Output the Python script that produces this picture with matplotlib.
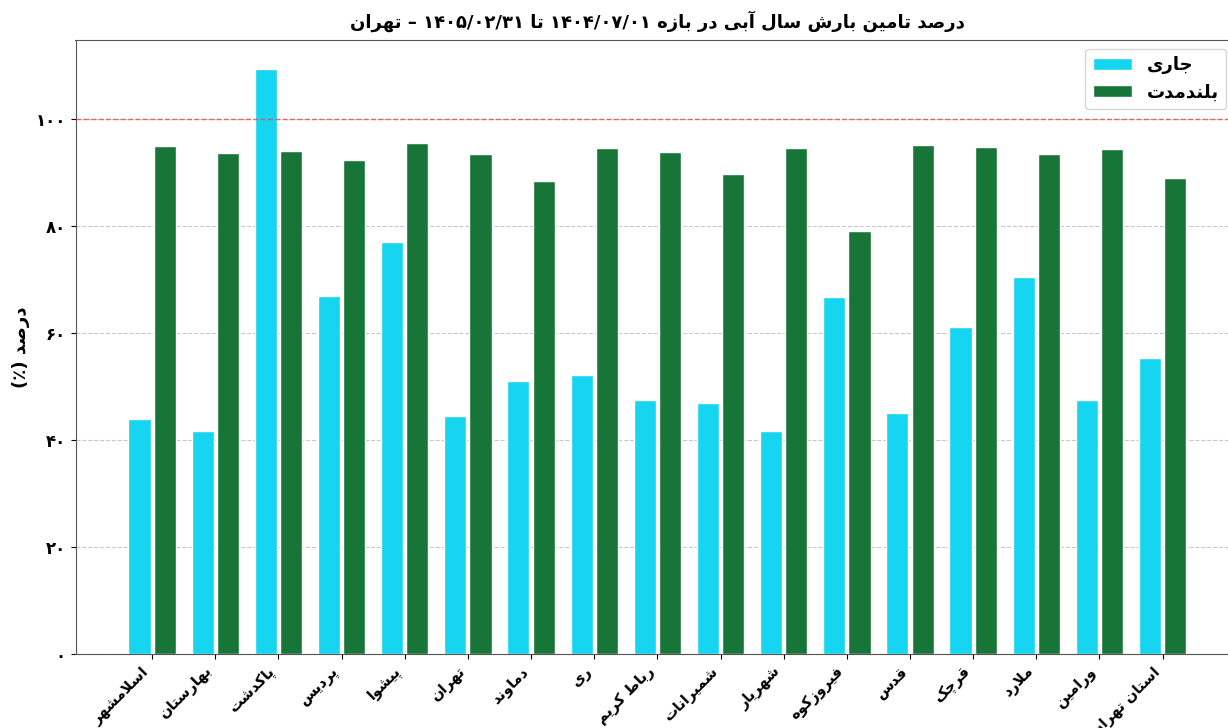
import re

import matplotlib

matplotlib.use("Agg")
import matplotlib.pyplot as plt
import numpy as np

# contextual forms: isolated, final, initial, medial
FORMS = {
    "\u0627": ("\uFE8D", "\uFE8E", None, None),
    "\u0622": ("\uFE81", "\uFE82", None, None),
    "\u0628": ("\uFE8F", "\uFE90", "\uFE91", "\uFE92"),
    "\u067E": ("\uFB56", "\uFB57", "\uFB58", "\uFB59"),
    "\u062A": ("\uFE95", "\uFE96", "\uFE97", "\uFE98"),
    "\u062B": ("\uFE99", "\uFE9A", "\uFE9B", "\uFE9C"),
    "\u062C": ("\uFE9D", "\uFE9E", "\uFE9F", "\uFEA0"),
    "\u0686": ("\uFB7A", "\uFB7B", "\uFB7C", "\uFB7D"),
    "\u062D": ("\uFEA1", "\uFEA2", "\uFEA3", "\uFEA4"),
    "\u062E": ("\uFEA5", "\uFEA6", "\uFEA7", "\uFEA8"),
    "\u062F": ("\uFEA9", "\uFEAA", None, None),
    "\u0630": ("\uFEAB", "\uFEAC", None, None),
    "\u0631": ("\uFEAD", "\uFEAE", None, None),
    "\u0632": ("\uFEAF", "\uFEB0", None, None),
    "\u0698": ("\uFB8A", "\uFB8B", None, None),
    "\u0633": ("\uFEB1", "\uFEB2", "\uFEB3", "\uFEB4"),
    "\u0634": ("\uFEB5", "\uFEB6", "\uFEB7", "\uFEB8"),
    "\u0635": ("\uFEB9", "\uFEBA", "\uFEBB", "\uFEBC"),
    "\u0636": ("\uFEBD", "\uFEBE", "\uFEBF", "\uFEC0"),
    "\u0637": ("\uFEC1", "\uFEC2", "\uFEC3", "\uFEC4"),
    "\u0638": ("\uFEC5", "\uFEC6", "\uFEC7", "\uFEC8"),
    "\u0639": ("\uFEC9", "\uFECA", "\uFECB", "\uFECC"),
    "\u063A": ("\uFECD", "\uFECE", "\uFECF", "\uFED0"),
    "\u0641": ("\uFED1", "\uFED2", "\uFED3", "\uFED4"),
    "\u0642": ("\uFED5", "\uFED6", "\uFED7", "\uFED8"),
    "\u06A9": ("\uFB8E", "\uFB8F", "\uFB90", "\uFB91"),
    "\u06AF": ("\uFB92", "\uFB93", "\uFB94", "\uFB95"),
    "\u0644": ("\uFEDD", "\uFEDE", "\uFEDF", "\uFEE0"),
    "\u0645": ("\uFEE1", "\uFEE2", "\uFEE3", "\uFEE4"),
    "\u0646": ("\uFEE5", "\uFEE6", "\uFEE7", "\uFEE8"),
    "\u0647": ("\uFEE9", "\uFEEA", "\uFEEB", "\uFEEC"),
    "\u0648": ("\uFEED", "\uFEEE", None, None),
    "\u06CC": ("\uFBFC", "\uFBFD", "\uFBFE", "\uFBFF"),
    "\u064A": ("\uFEF1", "\uFEF2", "\uFEF3", "\uFEF4"),
    "\u0626": ("\uFE89", "\uFE8A", "\uFE8B", "\uFE8C"),
}
LAM_ALEF = {"\u0627": ("\uFEFB", "\uFEFC"), "\u0622": ("\uFEF5", "\uFEF6")}


def joins_left(c):
    return c in FORMS and FORMS[c][2] is not None


def fa(text):
    """Shape Persian text and put it in visual (left to right) order."""
    out = []
    i = 0
    n = len(text)
    while i < n:
        c = text[i]
        if c not in FORMS:
            out.append(c)
            i += 1
            continue
        prev_j = i > 0 and joins_left(text[i - 1])
        nxt = text[i + 1] if i + 1 < n else ""
        if c == "\u0644" and nxt in LAM_ALEF:
            out.append(LAM_ALEF[nxt][1] if prev_j else LAM_ALEF[nxt][0])
            i += 2
            continue
        f = FORMS[c]
        next_j = nxt in FORMS and f[2] is not None
        if prev_j and next_j:
            g = f[3]
        elif prev_j:
            g = f[1]
        elif next_j:
            g = f[2]
        else:
            g = f[0]
        out.append(g)
        i += 1
    s = "".join(out)[::-1]
    s = re.sub(r"[0-9\u06F0-\u06F9/.]+", lambda m: m.group(0)[::-1], s)
    return s.translate(str.maketrans("()", ")("))


# ---- data ----
counties = [
    "اسلامشهر", "بهارستان", "پاکدشت", "پردیس", "پیشوا", "تهران", "دماوند",
    "ری", "رباط کریم", "شمیرانات", "شهریار", "فیروزکوه", "قدس", "قرچک",
    "ملارد", "ورامین", "استان تهران",
]
current = [44.0, 41.8, 109.3, 67.0, 77.1, 44.6, 51.1, 52.1, 47.6, 47.0,
           41.8, 66.8, 45.0, 61.2, 70.5, 47.6, 55.4]
longterm = [95.0, 93.7, 94.0, 92.4, 95.5, 93.5, 88.4, 94.6, 93.8, 89.7,
            94.6, 79.1, 95.1, 94.8, 93.5, 94.4, 89.0]
y_ticks = [0, 20, 40, 60, 80, 100]
y_tick_labels = ["۰", "۲۰", "۴۰", "۶۰", "۸۰", "۱۰۰"]
series_names = ["جاری", "بلندمدت"]
title = "درصد تامین بارش سال آبی در بازه ۱۴۰۴/۰۷/۰۱ تا ۱۴۰۵/۰۲/۳۱ – تهران"
y_label = "درصد (٪)"

plt.rcParams["font.family"] = ["DejaVu Sans"]

fig = plt.figure(figsize=(12.28, 7.28), dpi=100)
ax = fig.add_axes([75.5 / 1228, 1 - 654.3 / 728, 1163.7 / 1228, 614.3 / 728])

x = np.arange(len(counties))
w = 0.35
ax.bar(x - 0.2, current, w, color="#15d5f0", edgecolor="white", linewidth=1,
       label=fa(series_names[0]))
ax.bar(x + 0.2, longterm, w, color="#177537", edgecolor="white", linewidth=1,
       label=fa(series_names[1]))

ax.axhline(100, color="#e84848", linestyle="--", linewidth=1, alpha=0.8, zorder=3)

ax.set_ylim(0, max(current) * 1.05)
ax.set_xlim(-1.2125, len(counties) - 1 + 1.2125)
ax.set_yticks(y_ticks)
ax.set_yticklabels(y_tick_labels, fontsize=12, fontweight="bold")
ax.set_xticks(x)
ax.set_xticklabels([fa(c) for c in counties], rotation=45, ha="right",
                   fontsize=10.5, fontweight="bold")

ax.set_ylabel(fa(y_label), fontsize=13, fontweight="bold", labelpad=4)
ax.set_title(fa(title), fontsize=13, fontweight="bold", pad=9)

ax.grid(axis="y", linestyle="--", color="#bbbbbb", alpha=0.8)
ax.set_axisbelow(True)
for sp in ax.spines.values():
    sp.set_color("#555555")

leg = ax.legend(loc="upper right", prop={"weight": "bold", "size": 13},
                bbox_to_anchor=(0.9966, 1.0), handlelength=2.2)

fig.savefig("out.png", dpi=100)
